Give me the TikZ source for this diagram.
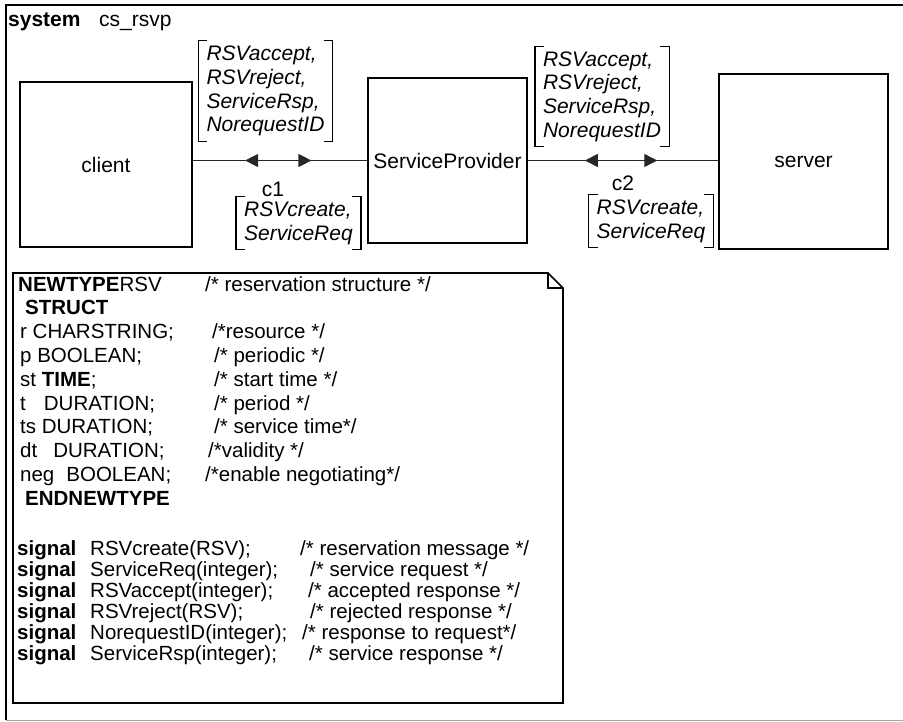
\documentclass[tikz,border=0pt]{standalone}
\usepackage{fontspec}
\setmainfont{Liberation Sans}
\usetikzlibrary{arrows.meta, decorations.markings}

\tikzset{
  block/.style={draw, line width=1.6pt, inner sep=0pt, font=\fontsize{21}{24}\selectfont},
  chan/.style={line width=1.3pt, draw=black!85, postaction={decorate}, decoration={markings,
      mark=at position 0.30 with {\arrowreversed{Triangle[length=13pt,width=13pt]}},
      mark=at position 0.68 with {\arrow{Triangle[length=13pt,width=13pt]}}}},
  sigset/.style={align=left, inner xsep=8pt, inner ysep=5pt, font=\fontsize{21}{23.7}\selectfont\itshape},
  chlabel/.style={inner sep=0pt, font=\fontsize{21}{24}\selectfont},
  brk/.style={line width=1.3pt},
  code/.style={anchor=base west, inner sep=0pt, font=\fontsize{20.5}{24}\selectfont},
}
\newcommand{\sigbrackets}[1]{%
  \draw[brk] ([xshift=9pt]#1.north west) -- (#1.north west) -- (#1.south west) -- ([xshift=9pt]#1.south west);
  \draw[brk] ([xshift=-9pt]#1.north east) -- (#1.north east) -- (#1.south east) -- ([xshift=-9pt]#1.south east);
}
\newcommand{\sigkw}{\makebox[73pt][l]{\textbf{signal}}}

\begin{document}
\begin{tikzpicture}[x=1pt, y=-1pt]
  \useasboundingbox (0,0) rectangle (903,722);
  % system frame
  \draw[line width=1.6pt] (903,5) -- (6,5) -- (6,720);
  \draw[line width=1pt, black!35] (6,720) -- (903,720);
  \node[code, font=\fontsize{21}{24}\selectfont] (sysword) at (8,27) {\textbf{system}};
  \node[code, font=\fontsize{21}{24}\selectfont] (sysname) at (99,27) {cs\_rsvp};

  % blocks
  \node[block, minimum width=172pt, minimum height=165pt] (client) at (106,164.5) {client};
  \node[block, minimum width=159pt, minimum height=165pt] (sp) at (447.5,160.5) {ServiceProvider};
  \node[block, minimum width=169pt, minimum height=175pt] (server) at (803.5,161.5) {server};

  % channels
  \draw[chan] (sp.west -| client.east) -- (sp.west);
  \draw[chan] (sp.east) -- (sp.east -| server.west);
  \node[chlabel] (c1name) at (273,189) {c1};
  \node[chlabel] (c2name) at (623,183) {c2};

  % signal lists
  \node[sigset] (c1up) at (265.5,91) {RSVaccept,\\RSVreject,\\ServiceRsp,\\NorequestID};
  \node[sigset] (c1down) at (298.5,223) {RSVcreate,\\ServiceReq};
  \node[sigset] (c2up) at (602,96.5) {RSVaccept,\\RSVreject,\\ServiceRsp,\\NorequestID};
  \node[sigset] (c2down) at (651,221) {RSVcreate,\\ServiceReq};
  \sigbrackets{c1up}
  \sigbrackets{c1down}
  \sigbrackets{c2up}
  \sigbrackets{c2down}

  % text symbol
  \draw[line width=1.6pt] (13,273) -- (548,273) -- (563,288) -- (563,703) -- (13,703) -- cycle;
  \draw[line width=1.6pt] (548,273) -- (548,288) -- (563,288);

  \node[code] (l1) at (18,291) {\textbf{NEWTYPE}RSV};
  \node[code] (k1) at (205,291) {/* reservation structure */};
  \node[code] (l2) at (25,314.8) {\textbf{STRUCT}};
  \node[code] (l3) at (20,338.6) {r CHARSTRING;};
  \node[code] (k3) at (212,338.6) {/*resource */};
  \node[code] (l4) at (20,362.4) {p BOOLEAN;};
  \node[code] (k4) at (214,362.4) {/* periodic */};
  \node[code] (l5) at (20,386.2) {st \textbf{TIME};};
  \node[code] (k5) at (214,386.2) {/* start time */};
  \node[code] (l6) at (20,410) {t\hspace{18pt}DURATION;};
  \node[code] (k6) at (214,410) {/* period */};
  \node[code] (l7) at (20,433.8) {ts DURATION;};
  \node[code] (k7) at (214,433.8) {/* service time*/};
  \node[code] (l8) at (20,457.6) {dt\hspace{16pt}DURATION;};
  \node[code] (k8) at (208,457.6) {/*validity */};
  \node[code] (l9) at (20,481.4) {neg\hspace{12pt}BOOLEAN;};
  \node[code] (k9) at (205,481.4) {/*enable negotiating*/};
  \node[code] (l10) at (25,505.2) {\textbf{ENDNEWTYPE}};

  \node[code] (s1) at (17,555) {\sigkw RSVcreate(RSV);};
  \node[code] (t1) at (300,555) {/* reservation message */};
  \node[code] (s2) at (17,576) {\sigkw ServiceReq(integer);};
  \node[code] (t2) at (310,576) {/* service request */};
  \node[code] (s3) at (17,597) {\sigkw RSVaccept(integer);};
  \node[code] (t3) at (308,597) {/* accepted response */};
  \node[code] (s4) at (17,618) {\sigkw RSVreject(RSV);};
  \node[code] (t4) at (310,618) {/* rejected response */};
  \node[code] (s5) at (17,639) {\sigkw NorequestID(integer);};
  \node[code] (t5) at (302,639) {/* response to request*/};
  \node[code] (s6) at (17,660) {\sigkw ServiceRsp(integer);};
  \node[code] (t6) at (309,660) {/* service response */};
\end{tikzpicture}
\end{document}
